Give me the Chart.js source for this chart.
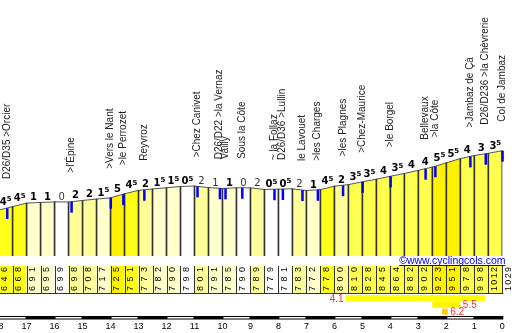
<!DOCTYPE html>
<html>
<head>
<meta charset="utf-8">
<script src="https://cdn.jsdelivr.net/npm/chart.js@4.4.1/dist/chart.umd.min.js"></script>
<style>
  html, body { margin: 0; padding: 0; background: #fff; }
  #wrap { width: 518px; height: 333px; }
</style>
</head>
<body>
<div id="wrap"><canvas id="profile" width="518" height="333"></canvas></div>
<script>
// km to go, every 500 m from the foot to the col
const KM = [18, 17.5, 17, 16.5, 16, 15.5, 15, 14.5, 14, 13.5, 13, 12.5, 12, 11.5, 11, 10.5, 10, 9.5, 9,
            8.5, 8, 7.5, 7, 6.5, 6, 5.5, 5, 4.5, 4, 3.5, 3, 2.5, 2, 1.5, 1, 0.5, 0];
const ELEVATION = [646, 668, 691, 695, 699, 698, 708, 717, 725, 751, 773, 782, 790, 798, 801, 791, 785, 790, 789,
                   779, 781, 783, 772, 778, 800, 810, 828, 845, 864, 882, 902, 923, 951, 978, 998, 1012, 1029];
// gradient (%) of each 500 m stretch, as printed above the profile
const GRADES = [4.5, 4.5, 1, 1, 0, 2, 2, 1.5, 5, 4.5, 2, 1.5, 1.5, 0.5, 2, 1, 1, 0, 2, 0.5, 0.5, 2, 1, 4.5,
                2, 3.5, 3.5, 4, 3.5, 4, 4, 5.5, 5.5, 4, 3, 3.5];
const KM_TICKS = [18, 17, 16, 15, 14, 13, 12, 11, 10, 9, 8, 7, 6, 5, 4, 3, 2, 1, 0];

const PLACE_KM = [17.7, 15.4, 14.0, 13.55, 12.8, 10.9, 10.1, 9.9, 9.3, 8.15, 7.85, 7.15, 6.6, 5.7, 5.0, 4.0,
                  2.75, 2.4, 1.15, 0.6, 0];
const PLACE_NAMES = ['D26/D35 >Orcier', '>l\'Épine', '>Vers le Nant', '>le Perrozet', 'Reyvroz', '>Chez Canivet',
                     'D26/D22 >la Vernaz', 'Vailly', 'Sous la Côte', '~ la Follaz', 'D26/D36 >Lullin', 'le Lavouet',
                     '>les Charges', '>les Plagnes', '>Chez-Maurice', '>le Borgel', 'Bellevaux', '>la Côte',
                     '>Jambaz de Çà', 'D26/D236 >la Chèvrerie', 'Col de Jambaz'];

// average gradient bars under the table
const CLIMB_FROM = [5.6, 2.5, 2.15];
const CLIMB_TO = [0.6, 1.5, 1.95];
const CLIMB_AVG = [4.1, 5.5, 6.2];

function gradeColor(g) {
  g = Math.abs(g);
  if (g < 1) return '#ffffff';
  if (g < 2) return '#ffffcc';
  if (g < 3) return '#ffff99';
  if (g < 4.5) return '#ffff4d';
  if (g < 5) return '#ffff1a';
  if (g < 6) return '#fff200';
  return '#ffcc00';
}

function climbColor(g) {
  if (g < 5) return '#ffff00';
  if (g < 6) return '#fff500';
  return '#ffc800';
}

function elevAt(km) {
  for (let i = 0; i < KM.length - 1; i++) {
    if (km <= KM[i] && km >= KM[i + 1]) {
      const t = (KM[i] - km) / (KM[i] - KM[i + 1]);
      return ELEVATION[i] + t * (ELEVATION[i + 1] - ELEVATION[i]);
    }
  }
  return ELEVATION[ELEVATION.length - 1];
}

const FONT = '"Liberation Sans", Arial, sans-serif';

const profilePlugin = {
  id: 'profileLabels',
  afterDraw(chart) {
    const { ctx, chartArea } = chart;
    const xs = chart.scales.x;
    const ys = chart.scales.y;
    const px = k => xs.getPixelForValue(k);
    const base = chartArea.bottom;
    ctx.save();

    // gradient numbers over each stretch
    GRADES.forEach((g, i) => {
      const up = ELEVATION[i + 1] >= ELEVATION[i];
      const cx = (px(KM[i]) + px(KM[i + 1])) / 2;
      const yb = ys.getPixelForValue(Math.max(ELEVATION[i], ELEVATION[i + 1])) - 2;
      const whole = String(Math.floor(g));
      const half = g % 1 ? '5' : '';
      const weight = up ? 'bold ' : '';
      ctx.fillStyle = up ? '#000' : '#333';
      ctx.textBaseline = 'alphabetic';
      ctx.textAlign = 'left';
      ctx.font = weight + '10px "DejaVu Sans"';
      const w1 = ctx.measureText(whole).width;
      ctx.font = weight + '7px "DejaVu Sans"';
      const w2 = half ? ctx.measureText(half).width : 0;
      const start = cx - (w1 + w2) / 2;
      ctx.font = weight + '10px "DejaVu Sans"';
      ctx.fillText(whole, start, yb);
      if (half) {
        ctx.font = weight + '7px "DejaVu Sans"';
        ctx.fillText(half, start + w1, yb - 3.5);
      }
    });

    // place markers and names
    PLACE_KM.forEach((k, j) => {
      const x = px(k);
      const y = ys.getPixelForValue(elevAt(k));
      ctx.fillStyle = '#0000ff';
      ctx.fillRect(x - 1, y, 2.5, 11);
      ctx.save();
      ctx.translate(x, y - 29);
      ctx.rotate(-Math.PI / 2);
      ctx.font = '10px ' + FONT;
      ctx.textAlign = 'left';
      ctx.textBaseline = 'middle';
      ctx.fillStyle = '#222';
      ctx.fillText(PLACE_NAMES[j], 0, 0);
      ctx.restore();
    });

    // elevation table
    const tTop = base + 10, tBot = base + 37;
    GRADES.forEach((g, i) => {
      ctx.fillStyle = gradeColor(g);
      ctx.fillRect(px(KM[i]), tTop, px(KM[i + 1]) - px(KM[i]), tBot - tTop);
    });
    ctx.strokeStyle = '#333';
    ctx.lineWidth = 1;
    ctx.beginPath();
    KM.forEach((k, i) => {
      if (i === 0) return;
      const x = Math.round(px(k)) + 0.5;
      ctx.moveTo(x, tTop);
      ctx.lineTo(x, tBot);
    });
    ctx.moveTo(px(KM[0]), tBot + 0.5);
    ctx.lineTo(px(KM[KM.length - 1]) + 1, tBot + 0.5);
    ctx.stroke();

    ctx.fillStyle = '#000';
    ctx.font = '9px ' + FONT;
    ctx.textAlign = 'left';
    ctx.textBaseline = 'alphabetic';
    ELEVATION.forEach((e, i) => {
      const s = String(e);
      const widths = [...s].map(c => ctx.measureText(c).width);
      const sum = widths.reduce((a, b) => a + b, 0);
      const gap = (24 - sum) / (s.length - 1);
      ctx.save();
      ctx.translate(px(KM[i]) + 8.5, tBot - 2);
      ctx.rotate(-Math.PI / 2);
      let pos = 0;
      [...s].forEach((c, n) => {
        ctx.fillText(c, pos, 0);
        pos += widths[n] + gap;
      });
      ctx.restore();
    });

    // site credit
    ctx.font = '10.5px ' + FONT;
    ctx.fillStyle = '#0000ee';
    ctx.textAlign = 'right';
    const credit = '©www.cyclingcols.com';
    const cw = ctx.measureText(credit).width;
    ctx.fillText(credit, 505.5, base + 8);
    ctx.fillRect(505.5 - cw, base + 9, cw, 1);

    // average gradient bars
    CLIMB_AVG.forEach((g, r) => {
      const x0 = px(CLIMB_FROM[r]), x1 = px(CLIMB_TO[r]);
      const top = base + 39 + r * 6.8;
      ctx.fillStyle = climbColor(g);
      ctx.fillRect(x0, top, x1 - x0, 6);
      ctx.fillStyle = '#ff3030';
      ctx.font = '10px ' + FONT;
      ctx.textBaseline = 'alphabetic';
      if (r === 0) {
        ctx.textAlign = 'right';
        ctx.fillText(g.toFixed(1), x0 - 2, top + 6.5);
      } else {
        ctx.textAlign = 'left';
        ctx.fillText(g.toFixed(1), x1 + 2.5, top + 6.5);
      }
    });

    // km scale bar
    const sTop = base + 60;
    ctx.fillStyle = '#000';
    ctx.fillRect(px(KM[0]), sTop, px(0) - px(KM[0]) + 1, 3.5);
    ctx.fillStyle = '#fff';
    for (let k = 1; k < 18; k += 2) {
      ctx.fillRect(px(k + 1) + 1, sTop + 1, px(k) - px(k + 1) - 2, 1.5);
    }
    ctx.restore();
  },
};

const segments = GRADES.map((g, i) => ({
  type: 'line',
  data: [{ x: KM[i], y: ELEVATION[i] }, { x: KM[i + 1], y: ELEVATION[i + 1] }],
  borderColor: '#555',
  borderWidth: 1,
  backgroundColor: gradeColor(g),
  fill: 'start',
  pointRadius: 0,
  order: 1,
}));

const dividers = {
  type: 'bar',
  data: KM.map((k, i) => ({ x: k, y: ELEVATION[i] })),
  backgroundColor: '#333',
  barThickness: 1,
  order: 0,
};

new Chart(document.getElementById('profile'), {
  type: 'line',
  data: { datasets: [...segments, dividers] },
  options: {
    responsive: false,
    animation: false,
    layout: { padding: { left: 0, right: 15.7, top: 0, bottom: 0 } },
    plugins: { legend: { display: false }, tooltip: { enabled: false } },
    scales: {
      x: {
        type: 'linear',
        reverse: true,
        min: 0,
        max: 17.95,
        offset: false,
        grid: { display: false, drawTicks: false },
        border: { display: false },
        ticks: {
          autoSkip: false,
          maxRotation: 0,
          color: '#000',
          padding: 65,
          font: { family: 'Liberation Sans', size: 9 },
          callback: v => String(v),
        },
        afterBuildTicks(scale) { scale.ticks = KM_TICKS.map(v => ({ value: v })); },
        afterFit(scale) {
          scale.height = 77;
          scale.paddingLeft = 0;
          scale.paddingRight = 0;
        },
      },
      y: { display: false, min: 350, max: 2000 },
    },
  },
  plugins: [profilePlugin],
});
</script>
</body>
</html>
